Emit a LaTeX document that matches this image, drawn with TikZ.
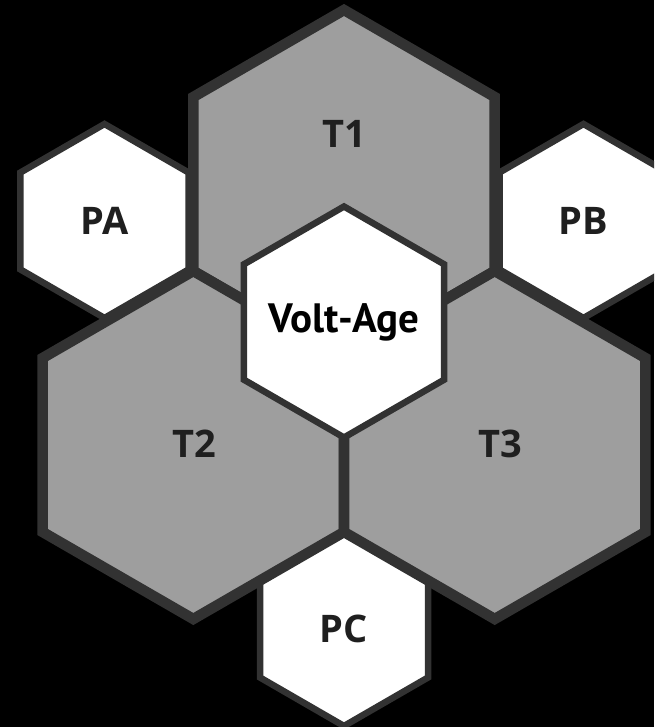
\documentclass[tikz,border=0pt]{standalone}
\usepackage{fontspec}
\setmainfont{Open Sans}
\newfontfamily\voltfont{PT Sans}
\usetikzlibrary{shapes.geometric}
\definecolor{hexline}{HTML}{323232}
\definecolor{hexfill}{HTML}{9E9E9E}
\definecolor{hextext}{HTML}{1F1F1F}

\begin{document}
\begin{tikzpicture}[x=1pt,y=-1pt,
        hex/.style={regular polygon,regular polygon sides=6,shape border rotate=30,
                inner sep=0pt,draw=hexline,line join=miter},
        bighex/.style={hex,minimum size=348pt,fill=hexfill,line width=10.5pt},
        smallhex/.style={hex,minimum size=194pt,fill=white,line width=6.5pt},
        corehex/.style={hex,minimum size=231pt,fill=white,line width=6.5pt},
        hexlabel/.style={text=hextext,font=\fontsize{38}{40}\selectfont\bfseries}]
            \fill [black] (0,0) rectangle (654,727);
            \useasboundingbox (0,0) rectangle (654,727);
            \clip (0,0) rectangle (654,727);
            \node [smallhex] (PA) at (104.5,221) {};
            \node [smallhex] (PB) at (583.5,221) {};
            \node [smallhex] (PC) at (344,629) {};
            \node [bighex] (T1) at (344,184) {};
            \node [bighex] (T2) at (193.3,445) {};
            \node [bighex] (T3) at (494.7,445) {};
            \node [corehex] (core) at (344,322) {};

            \node [hexlabel] (PA text) at (PA) {PA};
            \node [hexlabel] (PB text) at (PB) {PB};
            \node [hexlabel] (PC text) at (PC) {PC};
            \node [hexlabel] (T1 text) at (344,134) {T1};
            \node [hexlabel] (T2 text) at (194,444) {T2};
            \node [hexlabel] (T3 text) at (500,444) {T3};
            \node [text=black,font=\voltfont\fontsize{41}{43}\selectfont\bfseries] (core text) at (core) {Volt-Age};
        \end{tikzpicture}
\end{document}
